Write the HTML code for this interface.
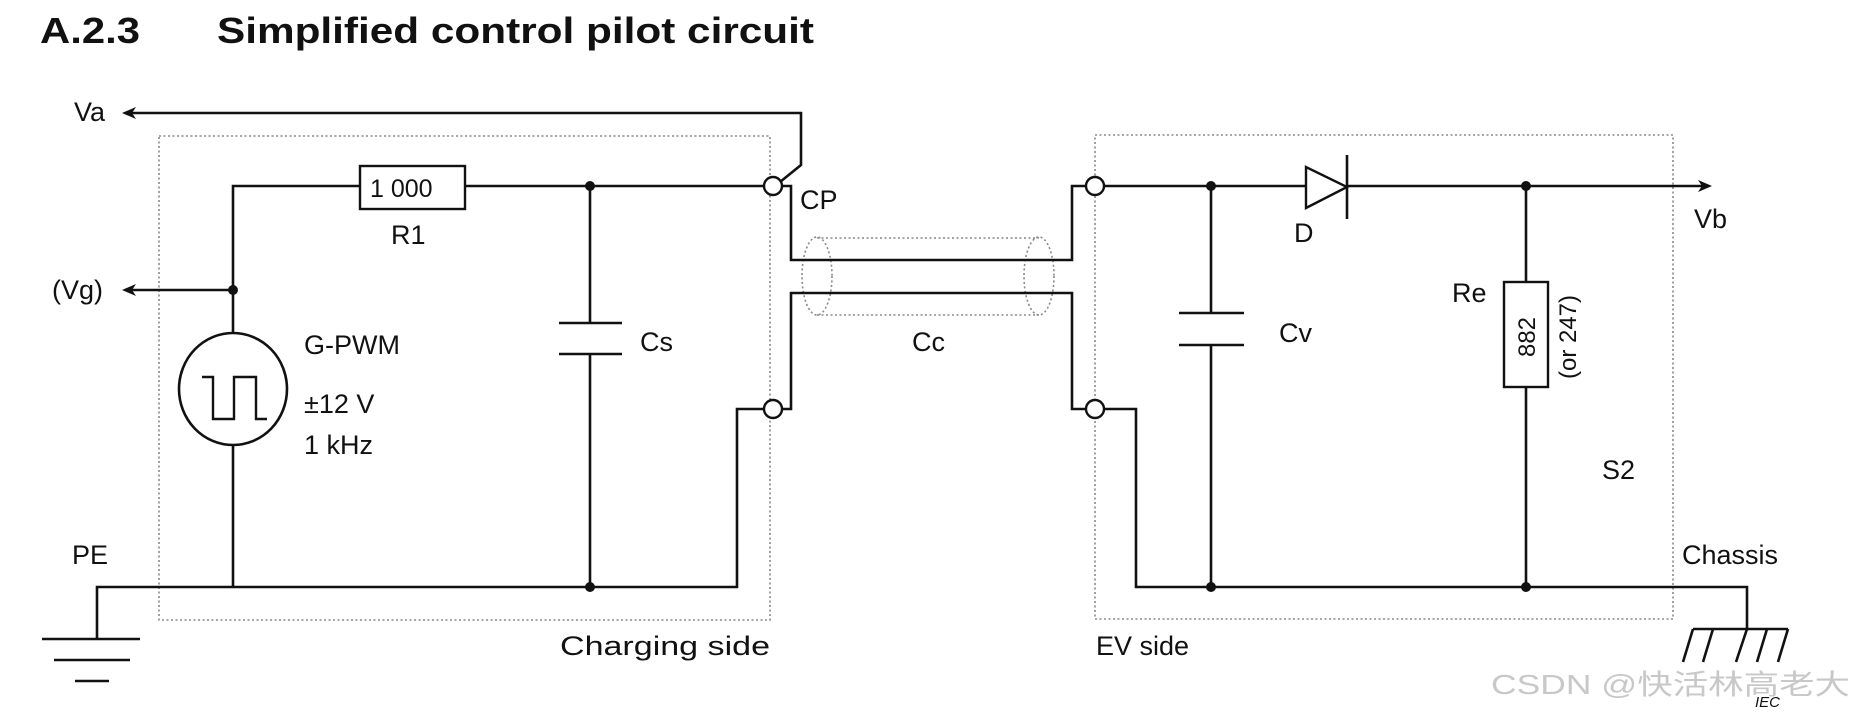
<!DOCTYPE html>
<html><head><meta charset="utf-8"><style>
html,body{margin:0;padding:0;background:#fff;}
svg{display:block;}
text{font-family:"Liberation Sans","Noto Sans CJK SC",sans-serif;fill:#111;}
</style></head><body>
<svg width="1850" height="717" viewBox="0 0 1850 717" xmlns="http://www.w3.org/2000/svg">
<text x="40" y="43" font-size="36" font-weight="bold" textLength="100" lengthAdjust="spacingAndGlyphs">A.2.3</text>
<text x="217" y="43" font-size="36" font-weight="bold" textLength="597" lengthAdjust="spacingAndGlyphs">Simplified control pilot circuit</text>

<g fill="none" stroke="#888" stroke-width="1.6" stroke-dasharray="2,2.5">
<rect x="159" y="136" width="611" height="484"/>
<rect x="1095" y="135" width="578" height="484"/>
<line x1="817" y1="238" x2="1039" y2="238"/>
<line x1="817" y1="315" x2="1039" y2="315"/>
<ellipse cx="817" cy="276" rx="15" ry="39"/>
<ellipse cx="1039" cy="276" rx="15" ry="39"/>
</g>

<g fill="none" stroke="#111" stroke-width="2.6">
<polyline points="128,113 801,113 801,165 780,182"/>
<polyline points="233,290 233,186 360,186"/>
<line x1="465" y1="186" x2="764" y2="186"/>
<rect x="360" y="166" width="105" height="43" stroke-width="2.4"/>
<line x1="128" y1="290" x2="233" y2="290"/>
<line x1="233" y1="290" x2="233" y2="333"/>
<ellipse cx="233" cy="389" rx="54" ry="56"/>
<polyline points="202,377 213,377 213,419 234,419 234,377 256,377 256,419 267,419" stroke-width="2.4"/>
<line x1="233" y1="445" x2="233" y2="587"/>
<line x1="590" y1="186" x2="590" y2="323"/>
<line x1="559" y1="323" x2="622" y2="323"/>
<line x1="559" y1="354" x2="622" y2="354"/>
<line x1="590" y1="354" x2="590" y2="587"/>
<polyline points="97,639 97,587 737,587 737,409 764,409"/>
<line x1="42" y1="639" x2="140" y2="639"/>
<line x1="54" y1="660" x2="130" y2="660"/>
<line x1="75" y1="681" x2="109" y2="681"/>
<polyline points="782,186 791,186 791,260 1072,260 1072,186 1086,186"/>
<polyline points="782,409 791,409 791,293 1072,293 1072,409 1086,409"/>
<line x1="1104" y1="186" x2="1306" y2="186"/>
<polygon points="1306,167 1306,208 1347,187" stroke-width="2.4"/>
<line x1="1347" y1="155" x2="1347" y2="219"/>
<line x1="1347" y1="186" x2="1706" y2="186"/>
<line x1="1211" y1="186" x2="1211" y2="313"/>
<line x1="1179" y1="313" x2="1244" y2="313"/>
<line x1="1179" y1="345" x2="1244" y2="345"/>
<line x1="1211" y1="345" x2="1211" y2="587"/>
<line x1="1526" y1="186" x2="1526" y2="282"/>
<rect x="1504" y="282" width="44" height="105" stroke-width="2.4"/>
<line x1="1526" y1="387" x2="1526" y2="587"/>
<polyline points="1104,409 1136,409 1136,587 1747,587 1747,629"/>
<line x1="1693" y1="629" x2="1788" y2="629"/>
<line x1="1693" y1="629" x2="1683" y2="662"/>
<line x1="1713" y1="629" x2="1703" y2="662"/>
<line x1="1747" y1="629" x2="1736" y2="662"/>
<line x1="1767" y1="629" x2="1757" y2="662"/>
<line x1="1788" y1="629" x2="1778" y2="662"/>
</g>
<g fill="#111">
<polygon points="122,113 136,107 132,113 136,119"/>
<polygon points="122,290 136,284 132,290 136,296"/>
<polygon points="1712,186 1698,180 1702,186 1698,192"/>
<circle cx="233" cy="290" r="5"/>
<circle cx="590" cy="186" r="5"/>
<circle cx="590" cy="587" r="5"/>
<circle cx="1211" cy="186" r="5"/>
<circle cx="1526" cy="186" r="5"/>
<circle cx="1211" cy="587" r="5"/>
<circle cx="1526" cy="587" r="5"/>
</g>
<g fill="#fff" stroke="#111" stroke-width="2.4">
<circle cx="773" cy="186" r="9"/>
<circle cx="773" cy="409" r="9"/>
<circle cx="1095" cy="186" r="9"/>
<circle cx="1095" cy="409" r="9"/>
</g>

<g font-size="27">
<text x="74" y="121">Va</text>
<text x="52" y="299">(Vg)</text>
<text x="370" y="197" font-size="25">1 000</text>
<text x="391" y="244">R1</text>
<text x="304" y="354">G-PWM</text>
<text x="304" y="413">±12 V</text>
<text x="304" y="454">1 kHz</text>
<text x="640" y="351">Cs</text>
<text x="800" y="209">CP</text>
<text x="912" y="351">Cc</text>
<text x="72" y="564">PE</text>
<text x="560" y="655" textLength="210" lengthAdjust="spacingAndGlyphs">Charging side</text>
<text x="1096" y="655">EV side</text>
<text x="1294" y="242">D</text>
<text x="1279" y="342">Cv</text>
<text x="1452" y="302">Re</text>
<text x="1694" y="228">Vb</text>
<text x="1602" y="479">S2</text>
<text x="1682" y="564">Chassis</text>
<text transform="translate(1535,337) rotate(-90)" text-anchor="middle" font-size="24">882</text>
<text transform="translate(1576,337) rotate(-90)" text-anchor="middle" font-size="24">(or 247)</text>
</g>
<text x="1755" y="707" font-size="15" font-style="italic" fill="#223">IEC</text>
<text x="1491" y="694" font-size="28" style="fill:#c8c8c8" textLength="359" lengthAdjust="spacingAndGlyphs">CSDN @快活林高老大</text>
</svg>
</body></html>
